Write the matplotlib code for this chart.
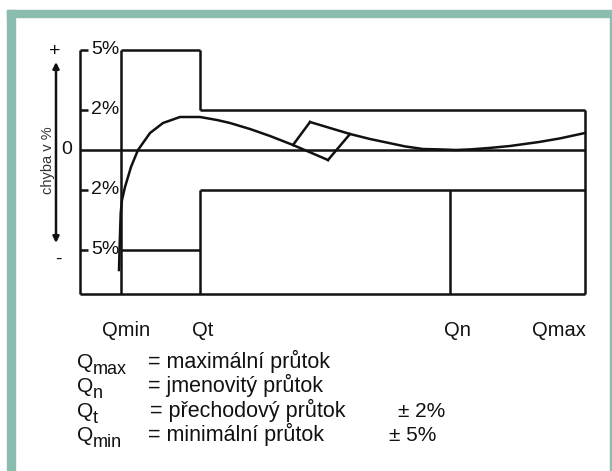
import matplotlib
matplotlib.use("Agg")
import matplotlib.pyplot as plt
from matplotlib.patches import Rectangle

plt.rcParams['font.family'] = ['Liberation Sans', 'DejaVu Sans']

# flow positions on the x axis (axis at 0)
q_names = ["Qmin", "Qt", "Qn", "Qmax"]
q_pos = [4.1, 12.0, 37.0, 50.5]
q_label_pos = [4.6, 12.3, 37.7, 47.9]

# error limits in %
lim_low_flow = 5      # Qmin .. Qt
lim_high_flow = 2     # Qt .. Qmax
y_bottom = -7.2
tick_vals = [5, 2, -2, -5]
tick_texts = ["5%", "2%", "2%", "5%"]

# error curve (x, error %)
curve_a_x = [3.9, 3.95, 4.07, 4.2, 4.5, 5.1, 5.8, 7.0, 8.3, 10.0, 12.0, 13.7, 15.0, 17.0, 19.0, 21.3, 24.8]
curve_a_y = [-6.0, -5.0, -3.15, -2.5, -1.85, -0.85, 0.0, 0.85, 1.35, 1.65, 1.65, 1.5, 1.35, 1.05, 0.7, 0.25, -0.5]
curve_b_x = [23.0, 25.0, 27.0, 29.0, 30.9, 32.5, 34.3, 36.0, 37.6, 39.0, 40.9, 43.0, 45.9, 48.0, 50.5]
curve_b_y = [1.4, 1.1, 0.8, 0.55, 0.35, 0.18, 0.05, 0.03, 0.0, 0.03, 0.1, 0.2, 0.4, 0.58, 0.85]

legend_sub = ["max", "n", "t", "min"]
legend_txt = ["= maximální průtok", "= jmenovitý průtok", "= přechodový průtok", "= minimální průtok"]
legend_tol = ["", "", "± 2%", "± 5%"]

teal = '#8bbcb0'
ink = '#111111'
lw = 1.8

fig = plt.figure(figsize=(6.12, 4.71), dpi=100)
W, H = 612.0, 471.0

# teal frame
fig.patches.append(Rectangle((7 / W, (H - 17) / H), (W - 7) / W, 7 / H,
                             transform=fig.transFigure, color=teal, zorder=0))
fig.patches.append(Rectangle((7 / W, 0), 8 / W, (H - 10) / H,
                             transform=fig.transFigure, color=teal, zorder=0))
fig.patches.append(Rectangle((610 / W, 0), 1.3 / W, (H - 10) / H,
                             transform=fig.transFigure, color=teal, zorder=0))

ax = fig.add_axes([0, 0, 1, 1])
ax.set_xlim(-8, 53.2)
ax.set_ylim(-16.05, 7.5)
ax.axis('off')

qmin, qt, qn, qmax = q_pos

def seg(x, y):
    ax.plot(x, y, color=ink, lw=lw, solid_capstyle='butt')

# axis, zero line, bottom line
seg([0, 0], [y_bottom, lim_low_flow])
seg([0, qmax], [0, 0])
seg([0, qmax], [y_bottom, y_bottom])
for v in tick_vals:
    seg([0, 0.8], [v, v])

# limit envelope
seg([qmin, qmin], [y_bottom, lim_low_flow])
seg([qmin, qt], [lim_low_flow, lim_low_flow])
seg([qmin, qt], [-lim_low_flow, -lim_low_flow])
seg([qt, qt], [lim_low_flow, lim_high_flow])
seg([qt, qt], [y_bottom, -lim_high_flow])
seg([qt, qmax], [lim_high_flow, lim_high_flow])
seg([qt, qmax], [-lim_high_flow, -lim_high_flow])
seg([qmax, qmax], [y_bottom, lim_high_flow])
seg([qn, qn], [y_bottom, -lim_high_flow])

# error curve with break symbol
ax.plot(curve_a_x, curve_a_y, color=ink, lw=lw, solid_joinstyle='round')
ax.plot(curve_b_x, curve_b_y, color=ink, lw=lw, solid_joinstyle='round')
ax.plot([curve_a_x[-2], curve_b_x[0]], [curve_a_y[-2], curve_b_y[0]], color=ink, lw=lw)
ax.plot([curve_b_x[2], curve_a_x[-1]], [curve_b_y[2], curve_a_y[-1]], color=ink, lw=lw)

# tick labels
for v, t in zip(tick_vals, tick_texts):
    ax.text(1.1, v, t, ha='left', va='center', fontsize=14, color=ink)
ax.text(-1.3, 0, "0", ha='center', va='center', fontsize=14, color=ink)

# y direction arrow
ax.annotate("", xy=(-2.4, 4.4), xytext=(-2.4, -4.65),
            arrowprops=dict(arrowstyle='<|-|>', color=ink, lw=1.8,
                            mutation_scale=9, shrinkA=0, shrinkB=0))
ax.text(-2.5, 4.95, "+", ha='center', va='center', fontsize=14, color=ink)
ax.text(-2.2, -5.45, "-", ha='center', va='center', fontsize=14, color=ink)
ax.text(-3.2, -0.5, "chyba v %", rotation=90, ha='center', va='center',
        fontsize=10.5, color='#333333')

# x labels
for name, x in zip(q_names, q_label_pos):
    ax.text(x, -9.05, name, ha='center', va='center', fontsize=14.5, color=ink)

# legend
leg_y = [-10.9, -12.1, -13.35, -14.55]
for sub, txt, tol, y in zip(legend_sub, legend_txt, legend_tol, leg_y):
    ax.text(-0.3, y, "Q", ha='left', va='baseline', fontsize=15, color=ink)
    ax.text(1.3, y - 0.3, sub, ha='left', va='baseline', fontsize=13, color=ink)
    x_txt = 7.0 if sub == "t" else 6.8
    ax.text(x_txt, y, txt, ha='left', va='baseline', fontsize=15.5, color=ink)
    if tol:
        x_tol = 31.8 if sub == "t" else 30.9
        ax.text(x_tol, y, tol, ha='left', va='baseline', fontsize=15, color=ink)

fig.savefig("out.png", dpi=100)
